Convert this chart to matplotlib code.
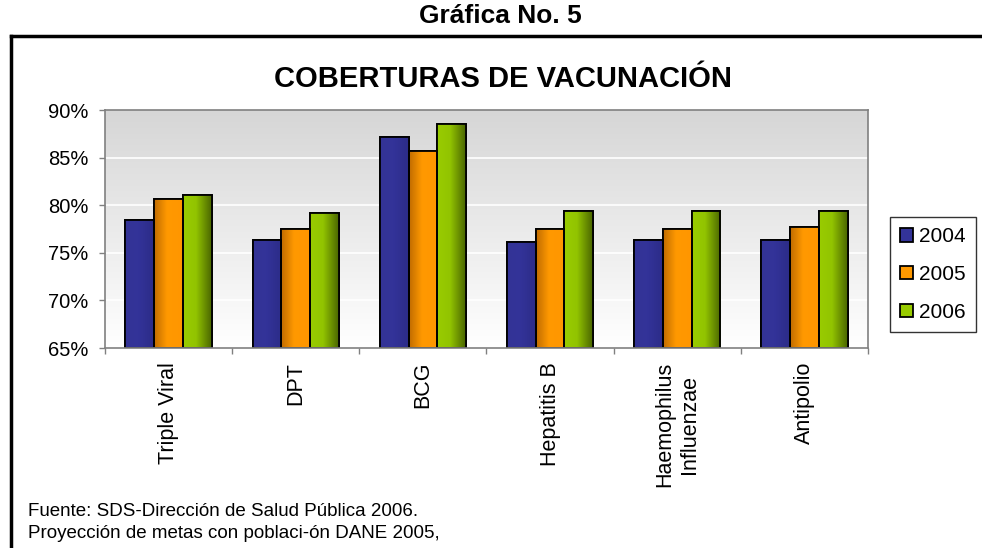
import numpy as np
import matplotlib
matplotlib.use("Agg")
import matplotlib.pyplot as plt
from matplotlib.colors import to_rgb
from matplotlib.ticker import FuncFormatter

plt.rcParams['font.family'] = ['Liberation Sans', 'DejaVu Sans']

categories = ["Triple Viral", "DPT", "BCG", "Hepatitis B", "Haemophilus\nInfluenzae", "Antipolio"]
years = ["2004", "2005", "2006"]
v2004 = [78.4, 76.3, 87.2, 76.1, 76.3, 76.3]
v2005 = [80.7, 77.5, 85.7, 77.5, 77.5, 77.7]
v2006 = [81.1, 79.2, 88.5, 79.4, 79.4, 79.4]
yticks = [65, 70, 75, 80, 85, 90]

series = [v2004, v2005, v2006]
base_colors = ["#333399", "#FF9900", "#99CC00"]
# gradient stops (left, mid, right) for each series
grad_stops = [
    ["#343496", "#333399", "#2c2c88"],
    ["#c06c00", "#ff9900", "#ff9600"],
    ["#99cc00", "#92c400", "#4a6600"],
]

W, H = 982, 548
fig = plt.figure(figsize=(W / 100, H / 100), dpi=100)

ax = fig.add_axes([105 / W, 1 - 348 / H, (868 - 105) / W, (348 - 110) / H])

# plot-area gradient background
grad = np.linspace(0, 1, 256).reshape(-1, 1)
top = np.array(to_rgb("#d6d6d6"))
bot = np.array([1.0, 1.0, 1.0])
bg = top[None, None, :] * (1 - grad[:, :, None]) + bot[None, None, :] * grad[:, :, None]
ax.imshow(bg, extent=[0, 1, 0, 1], transform=ax.transAxes, aspect='auto', zorder=0)

ax.set_xlim(-0.5, len(categories) - 0.5)
ax.set_ylim(yticks[0], yticks[-1])

for yv in yticks[1:-1]:
    ax.axhline(yv, color="white", lw=1.2, zorder=1)

bw = 0.226
x = np.arange(len(categories))
for i, (vals, col, stops) in enumerate(zip(series, base_colors, grad_stops)):
    xs = x + (i - 1) * bw
    bars = ax.bar(xs, np.array(vals) - yticks[0], bottom=yticks[0], width=bw,
                  color=col, edgecolor="black", linewidth=1.3, zorder=3, label=years[i])
    c0, c1, c2 = [np.array(to_rgb(s)) for s in stops]
    t = np.linspace(0, 1, 64)
    cols = np.array([c0 + (c1 - c0) * (tt / 0.45) if tt < 0.45 else c1 + (c2 - c1) * ((tt - 0.45) / 0.55) for tt in t])
    img = cols[None, :, :]
    for b in bars:
        bx, by = b.get_x(), b.get_y()
        im = ax.imshow(img, extent=[bx, bx + b.get_width(), by, by + b.get_height()],
                       aspect='auto', zorder=3.5, interpolation='bilinear')
        im.set_clip_path(b)
        ax.bar(b.get_x() + b.get_width() / 2, b.get_height(), bottom=by, width=b.get_width(),
               facecolor='none', edgecolor='black', linewidth=1.3, zorder=4)

ax.set_xlim(-0.5, len(categories) - 0.5)
ax.set_ylim(yticks[0], yticks[-1])

for s in ax.spines.values():
    s.set_color("#808080")
    s.set_linewidth(1.2)
    s.set_zorder(5)

ax.set_yticks(yticks)
ax.yaxis.set_major_formatter(FuncFormatter(lambda v, p: f"{v:.0f}%"))
ax.tick_params(axis='y', length=4, width=1, color="#808080", pad=8, labelsize=14.5)

ax.set_xticks(x)
ax.set_xticklabels(categories, rotation=90, ha='center', va='top', fontsize=15.5)
ax.set_xticks(np.arange(-0.5, len(categories), 1), minor=True)
ax.tick_params(axis='x', which='major', length=0, pad=10)
ax.tick_params(axis='x', which='minor', length=4, width=1, color="#808080")

# legend
handles, labels = ax.get_legend_handles_labels()
leg = fig.legend(handles, labels, loc='upper left',
                 bbox_to_anchor=(890 / W, 1 - 217 / H), bbox_transform=fig.transFigure,
                 fontsize=15, frameon=True, fancybox=False, edgecolor='black',
                 handlelength=0.6, handleheight=0.6, handletextpad=0.3,
                 labelspacing=0.9, borderpad=0.5, borderaxespad=0)
leg.get_frame().set_linewidth(1.0)

# titles
fig.text(500 / W, 1 - 16 / H, "Gráfica No. 5", ha='center', va='center',
         fontsize=19, fontweight='bold')
fig.text(503 / W, 1 - 79 / H, "COBERTURAS DE VACUNACIÓN", ha='center', va='center',
         fontsize=21, fontweight='bold')

# outer frame
fig.add_artist(plt.Line2D([11 / W, 11 / W], [0, 1 - 36 / H], transform=fig.transFigure,
                          color='black', lw=2.5))
fig.add_artist(plt.Line2D([11 / W, 1.0], [1 - 36 / H, 1 - 36 / H], transform=fig.transFigure,
                          color='black', lw=2.5))

# footnotes
fig.text(28 / W, 1 - 512 / H, "Fuente: SDS-Dirección de Salud Pública 2006.",
         ha='left', va='center', fontsize=13.5)
fig.text(28 / W, 1 - 533 / H, "Proyección de metas con poblaci-ón DANE 2005,",
         ha='left', va='center', fontsize=13.5)

fig.savefig("out.png", dpi=100)
